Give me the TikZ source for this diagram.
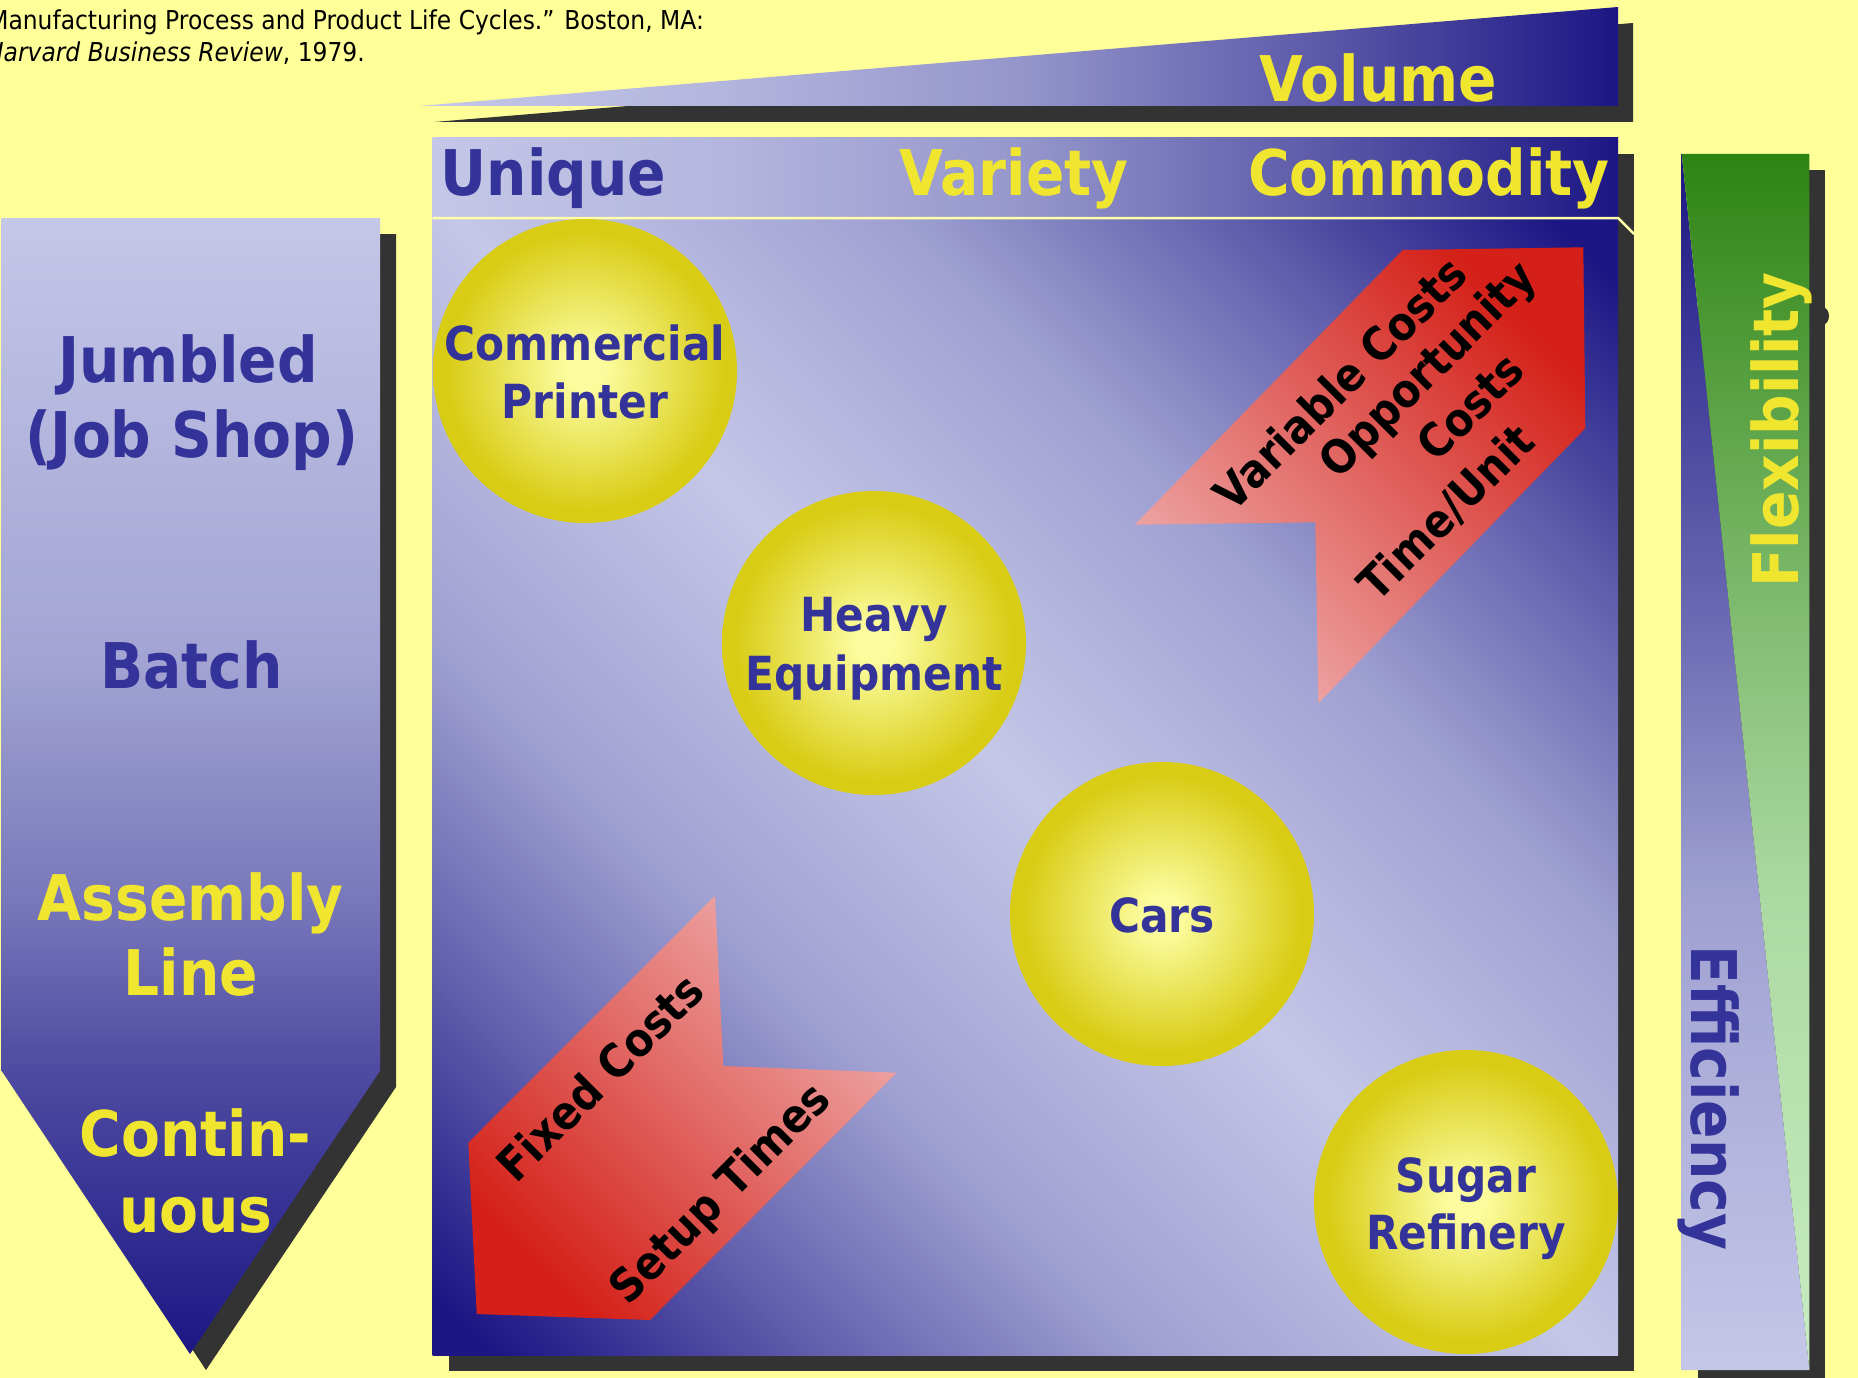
\documentclass[tikz,border=0pt]{standalone}
\usepackage{fontspec}
\newfontfamily\dv[FakeStretch=0.9]{DejaVu Sans}
\usetikzlibrary{calc}

\definecolor{bgyellow}{RGB}{255,255,153}
\definecolor{shadowc}{RGB}{51,51,51}
\definecolor{navyA}{RGB}{28,22,132}
\definecolor{lavA}{RGB}{196,199,231}
\definecolor{navytext}{RGB}{51,51,153}
\definecolor{yeltext}{RGB}{240,230,48}
\definecolor{redA}{RGB}{212,32,24}
\definecolor{pinkA}{RGB}{238,172,172}
\definecolor{greenA}{RGB}{46,132,18}
\definecolor{greenL}{RGB}{200,236,194}
\definecolor{yLight}{RGB}{252,252,158}
\definecolor{yRim}{RGB}{216,204,20}
\definecolor{paleline}{RGB}{255,255,170}

% intermediate lavender-to-navy steps
\colorlet{nv10}{lavA!90!navyA}
\colorlet{nv20}{lavA!80!navyA}
\colorlet{nv22}{lavA!78!navyA}
\colorlet{nv28}{lavA!72!navyA}
\colorlet{nv45}{lavA!55!navyA}
\colorlet{nv52}{lavA!48!navyA}
\colorlet{nv58}{lavA!42!navyA}
\colorlet{nv62}{lavA!38!navyA}
\colorlet{nv70}{lavA!30!navyA}
\colorlet{gMid}{greenA!45!greenL}
\colorlet{gLow}{greenA!18!greenL}

% light band along one diagonal, dark towards the other two corners
\pgfdeclarehorizontalshading{diagband}{100bp}{color(0bp)=(navyA); color(16.4bp)=(navyA); color(26.6bp)=(nv58); color(36.5bp)=(nv22); color(50bp)=(lavA); color(63.5bp)=(nv22); color(73.4bp)=(nv58); color(83.6bp)=(navyA); color(100bp)=(navyA)}
% lavender on the left, navy on the right
\pgfdeclarehorizontalshading{lavnavyH}{100bp}{color(0bp)=(lavA); color(25bp)=(lavA); color(37.5bp)=(nv10); color(50bp)=(nv28); color(62.5bp)=(nv62); color(75bp)=(navyA); color(100bp)=(navyA)}
% lavender on top, navy at the bottom
\pgfdeclareverticalshading{navybottom}{100bp}{color(0bp)=(navyA); color(25bp)=(navyA); color(37.5bp)=(nv70); color(45bp)=(nv45); color(55.5bp)=(nv20); color(75bp)=(lavA); color(100bp)=(lavA)}
% navy on top, lavender at the bottom
\pgfdeclareverticalshading{navytop}{100bp}{color(0bp)=(lavA); color(25bp)=(lavA); color(44.5bp)=(nv22); color(55.5bp)=(nv52); color(75bp)=(navyA); color(100bp)=(navyA)}
% green on top, pale green at the bottom
\pgfdeclareverticalshading{greentop}{100bp}{color(0bp)=(greenL); color(25bp)=(greenL); color(44.5bp)=(gLow); color(55.5bp)=(gMid); color(75bp)=(greenA); color(100bp)=(greenA)}
% glossy yellow ball
\pgfdeclareradialshading{ball}{\pgfpoint{0bp}{0bp}}{color(0bp)=(yLight); color(3bp)=(yLight); color(23bp)=(yRim); color(25bp)=(yRim); color(50bp)=(yRim)}

\tikzset{
  shadow/.style={fill=shadowc},
  txt/.style={inner sep=0pt, anchor=base},
  bigtxt/.style={txt, font=\dv\bfseries\fontsize{63}{75}\selectfont},
  balltxt/.style={txt, text=navytext, font=\dv\bfseries\fontsize{47}{58}\selectfont},
  arrowtxt/.style={inner sep=0pt, anchor=center, rotate=45, text=black, font=\dv\bfseries\fontsize{46}{56}\selectfont},
  citetxt/.style={inner sep=0pt, anchor=base east, text=black, font=\dv\fontsize{26}{32}\selectfont},
  ballnode/.style={circle, shade, shading=ball, minimum size=304pt, inner sep=0pt, draw=none},
}

\begin{document}
\begin{tikzpicture}[x=1pt,y=-1pt]
\useasboundingbox (0,0) rectangle (1858,1378);
\fill[bgyellow] (0,0) rectangle (1858,1378);

% reference lines
\node[citetxt] (cite1) at (704,29.3) {Manufacturing Process and Product Life Cycles.” Boston, MA:};
\node[citetxt] (cite2) at (365,61.7) {\itshape Harvard Business Review\upshape, 1979.};

% drop shadows
\fill[shadow] (434,122) -- (1633,23) -- (1633,122) -- cycle;
\fill[shadow] (448.5,154) rectangle (1634,1371);
\fill[shadow] (17.7,234) -- (396,234) -- (396,1087) -- (206,1370) -- (17.7,1087) -- cycle;
\fill[shadow] (1697.7,170) rectangle (1825.3,1386);
\fill[shadow] (1822,316) ellipse [x radius=7, y radius=9];

% volume wedge
\shade[shading=lavnavyH] (419,106) -- (1618,7) -- (1618,106) -- cycle;
\node[bigtxt, text=yeltext] (volume) at (1378.5,101.7) {Volume};

% product header band
\shade[shading=lavnavyH] (432.5,138) rectangle (1618,218);
\node[bigtxt, text=navytext] (unique) at (553.4,195) {Unique};
\node[bigtxt, text=yeltext] (variety) at (1014,195) {Variety};
\node[bigtxt, text=yeltext] (commodity) at (1429,195) {Commodity};

% matrix field
\shade[shading=diagband, shading angle=45] (432.5,218) rectangle (1618,1355);
\draw[paleline, line width=2.5pt] (432.5,218) -- (1618,218) -- (1634,234);

% process arrow on the left
\shade[shading=navybottom] (1.7,218) -- (380,218) -- (380,1071) -- (190,1354) -- (1.7,1071) -- cycle;
\node[bigtxt, text=navytext] (jumbled) at (188,382) {Jumbled};
\node[bigtxt, text=navytext] (jobshop) at (191.5,457) {(Job Shop)};
\node[bigtxt, text=navytext] (batch) at (191.5,688) {Batch};
\node[bigtxt, text=yeltext] (assembly) at (190.7,920) {Assembly};
\node[bigtxt, text=yeltext] (line) at (190.7,995) {Line};
\node[bigtxt, text=yeltext] (contin) at (195.5,1156) {Contin-};
\node[bigtxt, text=yeltext] (uous) at (196,1232) {uous};

% flexibility / efficiency bar
\shade[shading=navytop] (1681.7,154) -- (1809.3,1370) -- (1681.7,1370) -- cycle;
\shade[shading=greentop] (1681.7,154) -- (1809.3,154) -- (1809.3,1370) -- cycle;
\node[bigtxt, text=yeltext, rotate=90] (flex) at (1798.3,430) {Flexibility};
\node[bigtxt, text=navytext, rotate=-90] (eff) at (1691.7,1098) {Efficiency};

% cost arrows
\shade[top color=redA, bottom color=pinkA, shading angle=-45]
  (1402.7,250) -- (1583.3,247.3) -- (1585.3,428.3) -- (1318.3,703.3) -- (1315.3,522.3) -- (1134.7,524.7) -- cycle;
\node[arrowtxt] (varcost) at (1339.8,383.3) {Variable Costs};
\node[arrowtxt] (opp) at (1430,371.7) {Opportunity};
\node[arrowtxt] (oppcost) at (1470,406.7) {Costs};
\node[arrowtxt] (tpu) at (1446.7,513.3) {Time/Unit};

\shade[top color=pinkA, bottom color=redA, shading angle=-45]
  (715,895.7) -- (723.3,1066) -- (896.7,1072.7) -- (650,1320) -- (476.7,1314) -- (468.3,1142.7) -- cycle;
\node[arrowtxt] (fixed) at (600,1076.7) {Fixed Costs};
\node[arrowtxt] (setup) at (721.7,1195) {Setup Times};

% example industries
\node[ballnode] (printer) at (585,371) {};
\node[balltxt] (printerA) at (585,360) {Commercial};
\node[balltxt] (printerB) at (585,418.3) {Printer};

\node[ballnode] (heavy) at (874,643) {};
\node[balltxt] (heavyA) at (874,631.7) {Heavy};
\node[balltxt] (heavyB) at (874,690) {Equipment};

\node[ballnode] (cars) at (1162,914) {};
\node[balltxt] (carsA) at (1162,932.7) {Cars};

\node[ballnode] (sugar) at (1466,1202) {};
\node[balltxt] (sugarA) at (1466,1192.7) {Sugar};
\node[balltxt] (sugarB) at (1466,1249.3) {Refinery};
\end{tikzpicture}
\end{document}
